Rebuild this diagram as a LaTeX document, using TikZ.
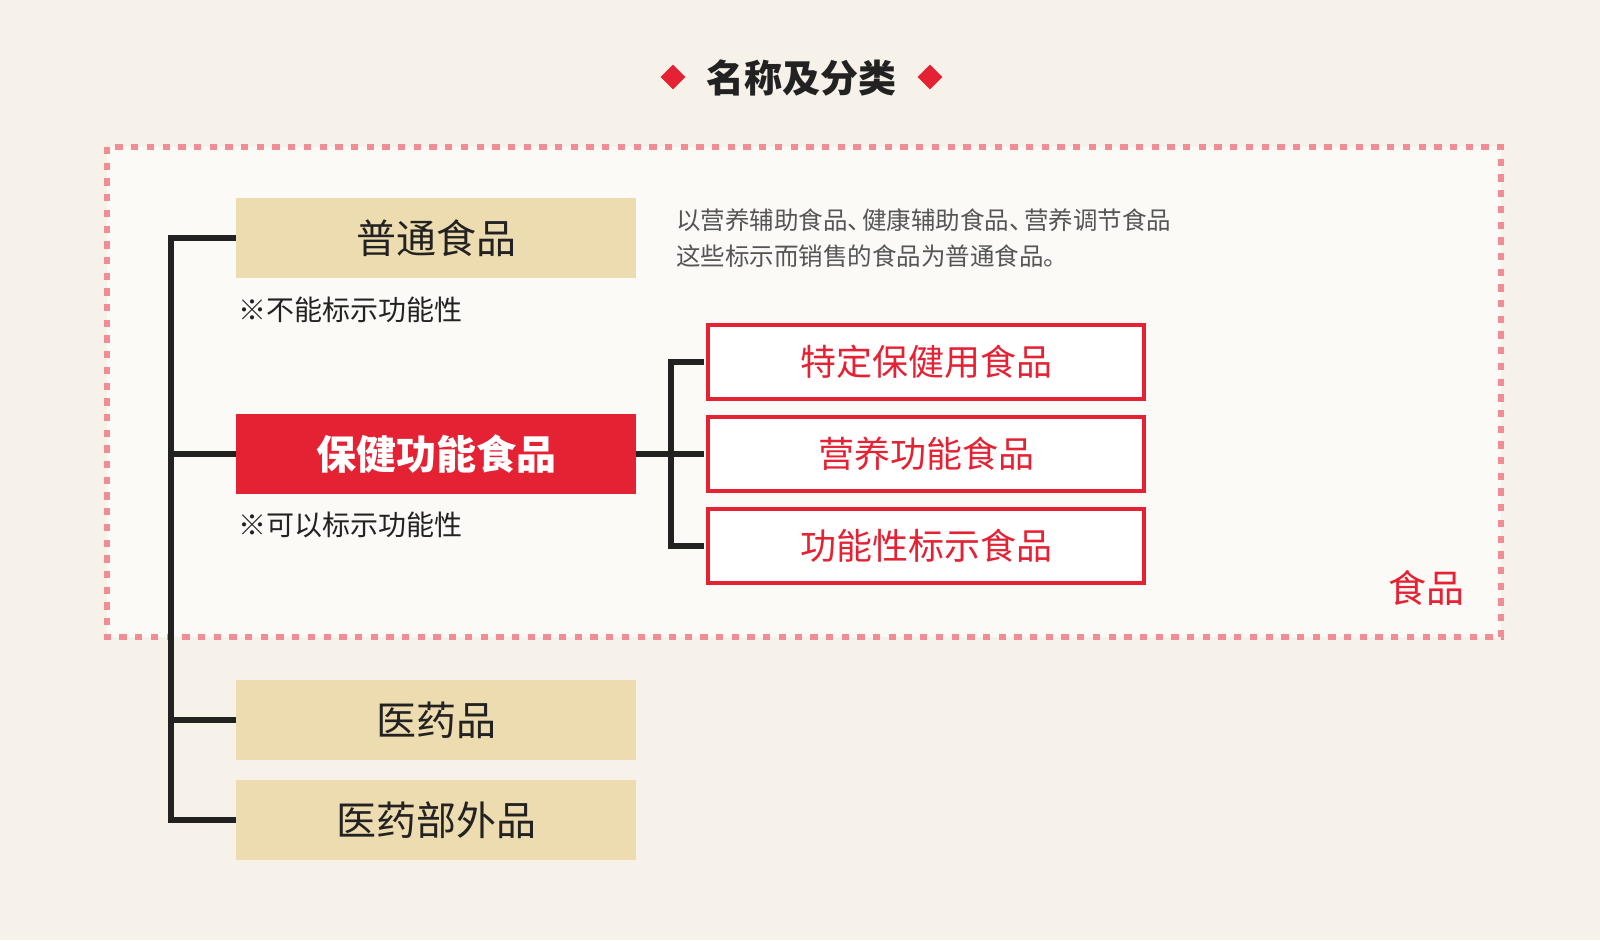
\documentclass[tikz,border=0pt]{standalone}
\usepackage{fontspec}
\newfontfamily\cjk{Noto Sans CJK SC}
\usetikzlibrary{shapes.geometric}
\definecolor{bgpaper}{HTML}{F7F2E9}
\definecolor{innerpaper}{HTML}{FBFAF7}
\definecolor{dashpink}{HTML}{F08C94}
\definecolor{mainred}{HTML}{E42234}
\definecolor{tan}{HTML}{EDDCAF}
\definecolor{ink}{HTML}{222222}
\definecolor{greytext}{HTML}{555555}
\newcommand{\fs}[1]{\fontsize{#1}{#1}\selectfont}
\newcommand{\dun}{\makebox[0.6em][l]{、}}
\tikzset{
  tanbox/.style={fill=tan, minimum width=400, minimum height=80, inner sep=0, text=ink, font=\cjk\fs{40}},
  redbox/.style={fill=mainred, minimum width=400, minimum height=80, inner sep=0, text=white, font=\cjk\bfseries\fs{40}},
  outbox/.style={draw=mainred, line width=4, fill=white, minimum width=436, minimum height=74, inner sep=0, text=mainred, font=\cjk\fs{36}},
  conn/.style={draw=ink, line width=6, line join=miter},
  note/.style={anchor=west, inner sep=0, text=ink, font=\cjk\fs{28}},
  desc/.style={anchor=west, inner sep=0, text=greytext, font=\cjk\fs{24.5}},
  titlediamond/.style={diamond, fill=mainred, minimum width=25, minimum height=25, inner sep=0}
}
\begin{document}
\begin{tikzpicture}[x=1pt,y=-1pt]
\useasboundingbox (0,0) rectangle (1600,940);
\fill[bgpaper] (0,0) rectangle (1600,940);
% dashed food region
\fill[innerpaper] (107,147) rectangle (1501,637);
\draw[dashpink, line width=6.5, dash pattern=on 7.3 off 8.4] (107,147) rectangle (1501,637);
% title
\node[titlediamond] (dl) at (673,77) {};
\node[titlediamond] (dr) at (930,77) {};
\node[inner sep=0, text=ink, font=\cjk\bfseries\fs{38}] (title) at (801,78) {名称及分类};
% left column boxes
\node[tanbox] (putong) at (436,238) {普通食品};
\node[redbox] (baojian) at (436,454) {保健功能食品};
\node[tanbox] (yiyao) at (436,720) {医药品};
\node[tanbox] (buwai) at (436,820) {医药部外品};
% notes
\node[note] (note1) at (238,310) {※不能标示功能性};
\node[note] (note2) at (238,525) {※可以标示功能性};
% description
\node[desc] (desc1) at (676,220) {以营养辅助食品\dun 健康辅助食品\dun 营养调节食品};
\node[desc] (desc2) at (676,256) {这些标示而销售的食品为普通食品。};
% right boxes
\node[outbox] (tebao) at (926,362) {特定保健用食品};
\node[outbox] (yingyang) at (926,454) {营养功能食品};
\node[outbox] (gongneng) at (926,546) {功能性标示食品};
% region label
\node[inner sep=0, text=mainred, font=\cjk\fs{38}] (shipin) at (1426,588) {食品};
% connectors
\coordinate (trunk) at (171,0);
\coordinate (branch) at (671,0);
\draw[conn] (putong.west) -- (putong.west -| trunk) |- (buwai.west);
\draw[conn] (baojian.west) -- (baojian.west -| trunk);
\draw[conn] (yiyao.west) -- (yiyao.west -| trunk);
\draw[conn] ([xshift=-2]tebao.west) -- (tebao.west -| branch) |- ([xshift=-2]gongneng.west);
\draw[conn] (baojian.east) -- ([xshift=-2]yingyang.west);
\end{tikzpicture}
\end{document}
